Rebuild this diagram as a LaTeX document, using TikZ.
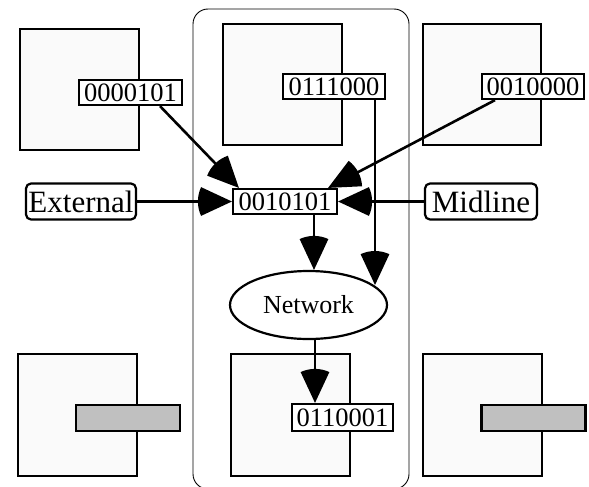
\documentclass[tikz,border=0pt]{standalone}
\usepackage{fontspec}
\setmainfont{Liberation Serif}
\usetikzlibrary{arrows.meta,shapes.geometric}
\definecolor{sqfill}{RGB}{250,250,250}
\definecolor{barfill}{RGB}{192,192,192}
\pgfdeclarearrow{
  name = Wedge,
  setup code = {
    \pgfarrowssettipend{0pt}
    \pgfarrowssetlineend{-15pt}
    \pgfarrowssetvisualbackend{-30pt}
    \pgfarrowssetbackend{-33pt}
  },
  drawing code = {
    \pgfpathmoveto{\pgfpointorigin}
    \pgfpathlineto{\pgfpointpolar{155}{34pt}}
    \pgfpatharc{155}{205}{34pt}
    \pgfpathclose
    \pgfusepathqfill
  },
}
\begin{document}
\begin{tikzpicture}[x=1pt,y=-1pt,
  container/.style={draw=black,line width=0.9pt,rounded corners=15pt,inner sep=0pt},
  sq/.style={draw=black,fill=sqfill,line width=2.2pt,inner sep=0pt},
  bar/.style={draw=black,fill=barfill,line width=2.2pt,inner sep=0pt,minimum width=104pt,minimum height=26pt},
  lbl/.style={draw=black,fill=white,line width=2.2pt,inner sep=0pt,minimum height=25pt,
    font=\fontsize{26.5}{30}\selectfont},
  ext/.style={draw=black,fill=white,line width=2.2pt,rounded corners=5pt,inner sep=0pt,
    minimum height=36pt,font=\fontsize{31}{34}\selectfont},
  net/.style={ellipse,draw=black,fill=white,line width=2.2pt,inner sep=0pt,
    minimum width=157pt,minimum height=68pt,font=\fontsize{26}{30}\selectfont},
  arr/.style={line width=2.6pt,-{Wedge}}]
\useasboundingbox (0,0) rectangle (589,487);
% group container
\node[container,minimum width=216pt,minimum height=480pt] (grp) at (301,249) {};
% squares
\node[sq,minimum width=119pt,minimum height=121pt] (sq1) at (79.5,89.5) {};
\node[sq,minimum width=119pt,minimum height=121pt] (sq2) at (282.5,84.5) {};
\node[sq,minimum width=118pt,minimum height=121pt] (sq3) at (482,84.5) {};
\node[sq,minimum width=119pt,minimum height=122pt] (sq4) at (77.5,415) {};
\node[sq,minimum width=119pt,minimum height=122pt] (sq5) at (290.5,415) {};
\node[sq,minimum width=119pt,minimum height=122pt] (sq6) at (482.5,415) {};
% bars
\node[bar] (b1) at (128,418) {};
\node[bar] (b2) at (533.5,418) {};
% labels
\node[lbl,minimum width=103pt] (l1) at (130.5,92.5) {0000101};
\node[lbl,minimum width=102pt] (l2) at (334,86.5) {0111000};
\node[lbl,minimum width=102pt] (l3) at (533,86.5) {0010000};
\node[lbl,minimum width=104pt] (c) at (285,201.5) {0010101};
\node[lbl,minimum width=101pt,minimum height=27pt] (l4) at (342.5,417.5) {0110001};
\node[ext,minimum width=110pt] (e) at (81,201.5) {External};
\node[ext,minimum width=112pt] (m) at (481,201.5) {Midline};
\node[net] (n) at (308.5,305) {Network};
% connectors
\draw[arr] ([xshift=29.5pt]l1.south) -- ([xshift=7pt]c.north west);
\draw[arr] ([xshift=-38pt]l3.south) -- ([xshift=-10pt]c.north east);
\draw[arr] (e.east) -- (c.west);
\draw[arr] (m.west) -- (c.east);
\coordinate (s2) at ([xshift=41pt]l2.south);
\draw[arr] (s2) -- (s2 |- n.17);
\coordinate (s1) at ([xshift=29pt]c.south);
\draw[arr] (s1) -- (s1 |- n.north);
\coordinate (s3) at ([xshift=6.5pt]n.south);
\draw[arr] (s3) -- (s3 |- l4.north);
\end{tikzpicture}
\end{document}
